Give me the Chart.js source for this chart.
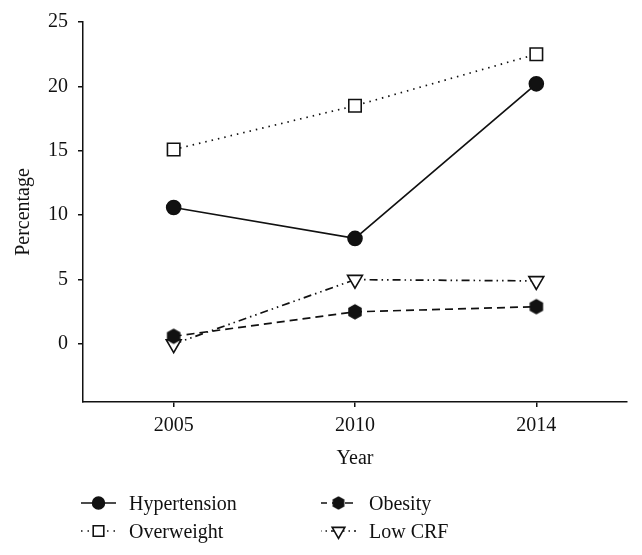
<!DOCTYPE html>
<html>
<head>
<meta charset="utf-8">
<script src="https://cdn.jsdelivr.net/npm/chart.js@4/dist/chart.umd.min.js"></script>
<style>
  body { margin: 0; background: #fff; }
  #wrap { position: relative; width: 642px; height: 555px; }
  #legend { position: absolute; left: 0; top: 0; width: 642px; height: 555px; pointer-events: none; }
  .item { position: absolute; display: flex; align-items: center; height: 28px;
          font-family: "Liberation Serif", serif; font-size: 20px; color: #111; }
  .item canvas { margin-right: 12px; }
</style>
</head>
<body>
<div id="wrap">
  <canvas id="chart" width="642" height="555"></canvas>
  <div id="legend"></div>
</div>
<script>
// data
const years = ["2005", "2010", "2014"];
const hypertension = [10.6, 8.2, 20.2];
const overweight = [15.1, 18.5, 22.5];
const obesity = [0.6, 2.5, 2.9];
const lowCrf = [0.0, 5.0, 4.9];
const yTicks = [0, 5, 10, 15, 20, 25];

const ink = "#111";

// hexagon marker (no built-in one in Chart.js)
function makeHexagon(r) {
    const c = document.createElement("canvas");
    c.width = c.height = Math.ceil(r * 2 + 2);
    const g = c.getContext("2d");
    const cx = c.width / 2, cy = c.height / 2;
    g.beginPath();
    for (let i = 0; i < 6; i++) {
        const a = Math.PI / 2 + i * Math.PI / 3;
        const px = cx + r * Math.cos(a), py = cy - r * Math.sin(a);
        if (i === 0) g.moveTo(px, py); else g.lineTo(px, py);
    }
    g.closePath();
    g.fillStyle = ink;
    g.fill();
    return c;
}
const hexagon = makeHexagon(7.8);
const hexagonSmall = makeHexagon(6.8);

const series = [
    { label: "Hypertension", data: hypertension, dash: [], dashOff: 0, style: "circle", legendStyle: "circle", radius: 7, fill: ink, rot: 0 },
    { label: "Overweight", data: overweight, dash: [1.5, 5], dashOff: 0, style: "rect", legendStyle: "rect", radius: 8.8, fill: "#fff", rot: 0 },
    { label: "Obesity", data: obesity, dash: [8, 5], dashOff: 2, style: hexagon, legendStyle: hexagonSmall, radius: 7.5, fill: ink, rot: 0 },
    { label: "Low CRF", data: lowCrf, dash: [8, 4, 1.5, 4, 1.5, 4], dashOff: 13, style: "triangle", legendStyle: "triangle", radius: 8.6, fill: "#fff", rot: 180 }
];

const datasets = series.map(s => ({
    label: s.label,
    data: s.data,
    borderColor: ink,
    borderWidth: 1.7,
    borderDash: s.dash,
    pointStyle: s.style,
    pointRadius: s.radius,
    pointHoverRadius: s.radius,
    pointRotation: s.rot,
    pointBackgroundColor: s.fill,
    pointBorderColor: ink,
    pointBorderWidth: 1.6,
    tension: 0,
    fill: false
}));

const serif = "'Liberation Serif', serif";

new Chart(document.getElementById("chart"), {
    type: "line",
    data: { labels: years, datasets: datasets },
    options: {
        responsive: false,
        animation: false,
        layout: { padding: { top: 20, right: 15, bottom: 80, left: 0 } },
        plugins: { legend: { display: false }, tooltip: { enabled: false } },
        scales: {
            x: {
                type: "category",
                offset: true,
                grid: { display: true, drawOnChartArea: false, tickLength: 5, color: ink, lineWidth: 1.5, offset: false },
                border: { display: true, color: ink, width: 1.5 },
                ticks: { color: ink, padding: 7, font: { family: serif, size: 20 } },
                title: { display: true, text: "Year", color: ink, font: { family: serif, size: 20 }, padding: { top: 4, bottom: 4 } },
                afterFit: s => { s.height = 73; }
            },
            y: {
                min: -4.5,
                max: 25,
                grid: { display: true, drawOnChartArea: false, tickLength: 5, color: ink, lineWidth: 1.5 },
                border: { display: true, color: ink, width: 1.5 },
                ticks: { color: ink, padding: 10, stepSize: 5, font: { family: serif, size: 20 } },
                afterBuildTicks: s => { s.ticks = yTicks.map(v => ({ value: v })); },
                title: { display: true, text: "Percentage", color: ink, font: { family: serif, size: 20 }, padding: { top: 12, bottom: 4 } },
                afterFit: s => { s.width = 83; }
            }
        }
    }
});

// legend: line + marker sample, two columns
const legendPos = [
    { x: 80, y: 489 },   // Hypertension
    { x: 80, y: 517 },   // Overweight
    { x: 320, y: 489 },  // Obesity
    { x: 320, y: 517 }   // Low CRF
];

function drawSample(s) {
    const c = document.createElement("canvas");
    c.width = 37; c.height = 28;
    const g = c.getContext("2d");
    g.strokeStyle = ink;
    g.lineWidth = 1.6;
    g.setLineDash(s.dash);
    g.lineDashOffset = s.dashOff;
    g.beginPath(); g.moveTo(1, 14); g.lineTo(36, 14); g.stroke();
    g.setLineDash([]);
    g.fillStyle = s.fill;
    Chart.helpers.drawPoint(g, { pointStyle: s.legendStyle, radius: s.radius * 0.85, rotation: s.rot, borderWidth: 1.6 }, 18.5, 14);
    return c;
}

const legend = document.getElementById("legend");
series.forEach((s, i) => {
    const div = document.createElement("div");
    div.className = "item";
    div.style.left = legendPos[i].x + "px";
    div.style.top = legendPos[i].y + "px";
    div.appendChild(drawSample(s));
    const span = document.createElement("span");
    span.textContent = s.label;
    div.appendChild(span);
    legend.appendChild(div);
});
</script>
</body>
</html>
